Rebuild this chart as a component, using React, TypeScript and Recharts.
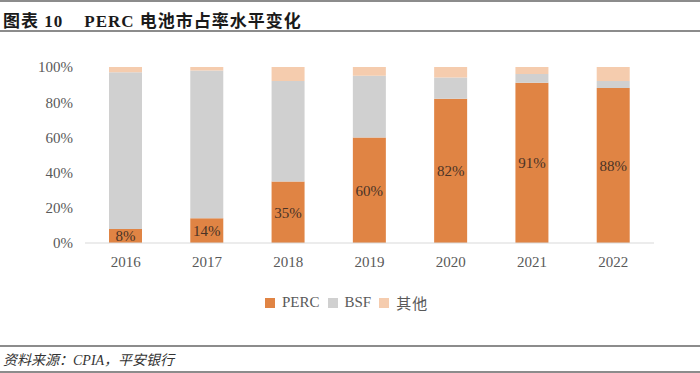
import { Bar, BarChart, LabelList, XAxis, YAxis } from 'recharts'

const years = ['2016', '2017', '2018', '2019', '2020', '2021', '2022']
const perc = [8, 14, 35, 60, 82, 91, 88]
const bsf = [89, 84, 57, 35, 12, 5, 4]
const other = [3, 2, 8, 5, 6, 4, 8]
const yTicks = [0, 20, 40, 60, 80, 100]

const seriesNames = { perc: 'PERC', bsf: 'BSF', other: '其他' }
const colors = { perc: '#E08444', bsf: '#D0D0D0', other: '#F5CCAE' }

const data = years.map((year, i) => ({ year, perc: perc[i], bsf: bsf[i], other: other[i] }))

const serif = '"Liberation Serif", "Noto Sans CJK SC", serif'

export default function App() {
  return (
    <div
      style={{
        position: 'absolute',
        left: 0,
        top: 0,
        width: 700,
        height: 373,
        background: '#fff',
        fontFamily: serif,
        overflow: 'hidden',
      }}
    >
      <div style={{ position: 'absolute', left: 0, top: 0, width: 700, borderTop: '2px solid #8c8c8c' }} />
      <div
        style={{
          position: 'absolute',
          left: 3,
          top: 7,
          fontSize: 17,
          fontWeight: 'bold',
          color: '#1a1a1a',
          whiteSpace: 'pre',
          letterSpacing: 1,
        }}
      >
        {'图表 10    PERC 电池市占率水平变化'}
      </div>
      <div style={{ position: 'absolute', left: 0, top: 30, width: 700, borderTop: '2px solid #8c8c8c' }} />

      <div style={{ position: 'absolute', left: 0, top: 0 }}>
        <BarChart
          width={700}
          height={300}
          data={data}
          margin={{ top: 67, right: 46, left: 0, bottom: 27 }}
          barSize={33}
        >
          <XAxis
            dataKey="year"
            tick={{ fontSize: 15, fill: '#595959', fontFamily: serif }}
            tickLine={false}
            axisLine={{ stroke: '#d9d9d9' }}
            tickMargin={7}
            height={30}
          />
          <YAxis
            domain={[0, 100]}
            ticks={yTicks}
            tickFormatter={(v) => `${v}%`}
            tick={{ fontSize: 15, fill: '#595959', fontFamily: serif }}
            axisLine={false}
            tickLine={false}
            tickMargin={6}
            width={85}
          />
          <Bar dataKey="perc" stackId="a" fill={colors.perc} isAnimationActive={false}>
            <LabelList
              dataKey="perc"
              position="center"
              formatter={(v: number) => `${v}%`}
              style={{ fontSize: 15, fill: '#4a3326', fontFamily: serif }}
            />
          </Bar>
          <Bar dataKey="bsf" stackId="a" fill={colors.bsf} isAnimationActive={false} />
          <Bar dataKey="other" stackId="a" fill={colors.other} isAnimationActive={false} />
        </BarChart>
      </div>

      <div
        style={{
          position: 'absolute',
          left: 265,
          top: 292,
          display: 'flex',
          alignItems: 'center',
          fontSize: 15,
          color: '#595959',
        }}
      >
        {(['perc', 'bsf', 'other'] as const).map((k) => (
          <div key={k} style={{ display: 'flex', alignItems: 'center', marginRight: 8 }}>
            <span style={{ width: 10, height: 10, background: colors[k], marginRight: 7, display: 'inline-block' }} />
            <span style={{ letterSpacing: k === 'other' ? 1 : 0 }}>{seriesNames[k]}</span>
          </div>
        ))}
      </div>

      <div style={{ position: 'absolute', left: 0, top: 345, width: 700, borderTop: '2px solid #8c8c8c' }} />
      <div
        style={{
          position: 'absolute',
          left: 3,
          top: 349,
          fontSize: 14,
          fontStyle: 'italic',
          color: '#333',
        }}
      >
        资料来源：CPIA，平安银行
      </div>
      <div style={{ position: 'absolute', left: 0, top: 371, width: 700, borderTop: '2px solid #8c8c8c' }} />
    </div>
  )
}
